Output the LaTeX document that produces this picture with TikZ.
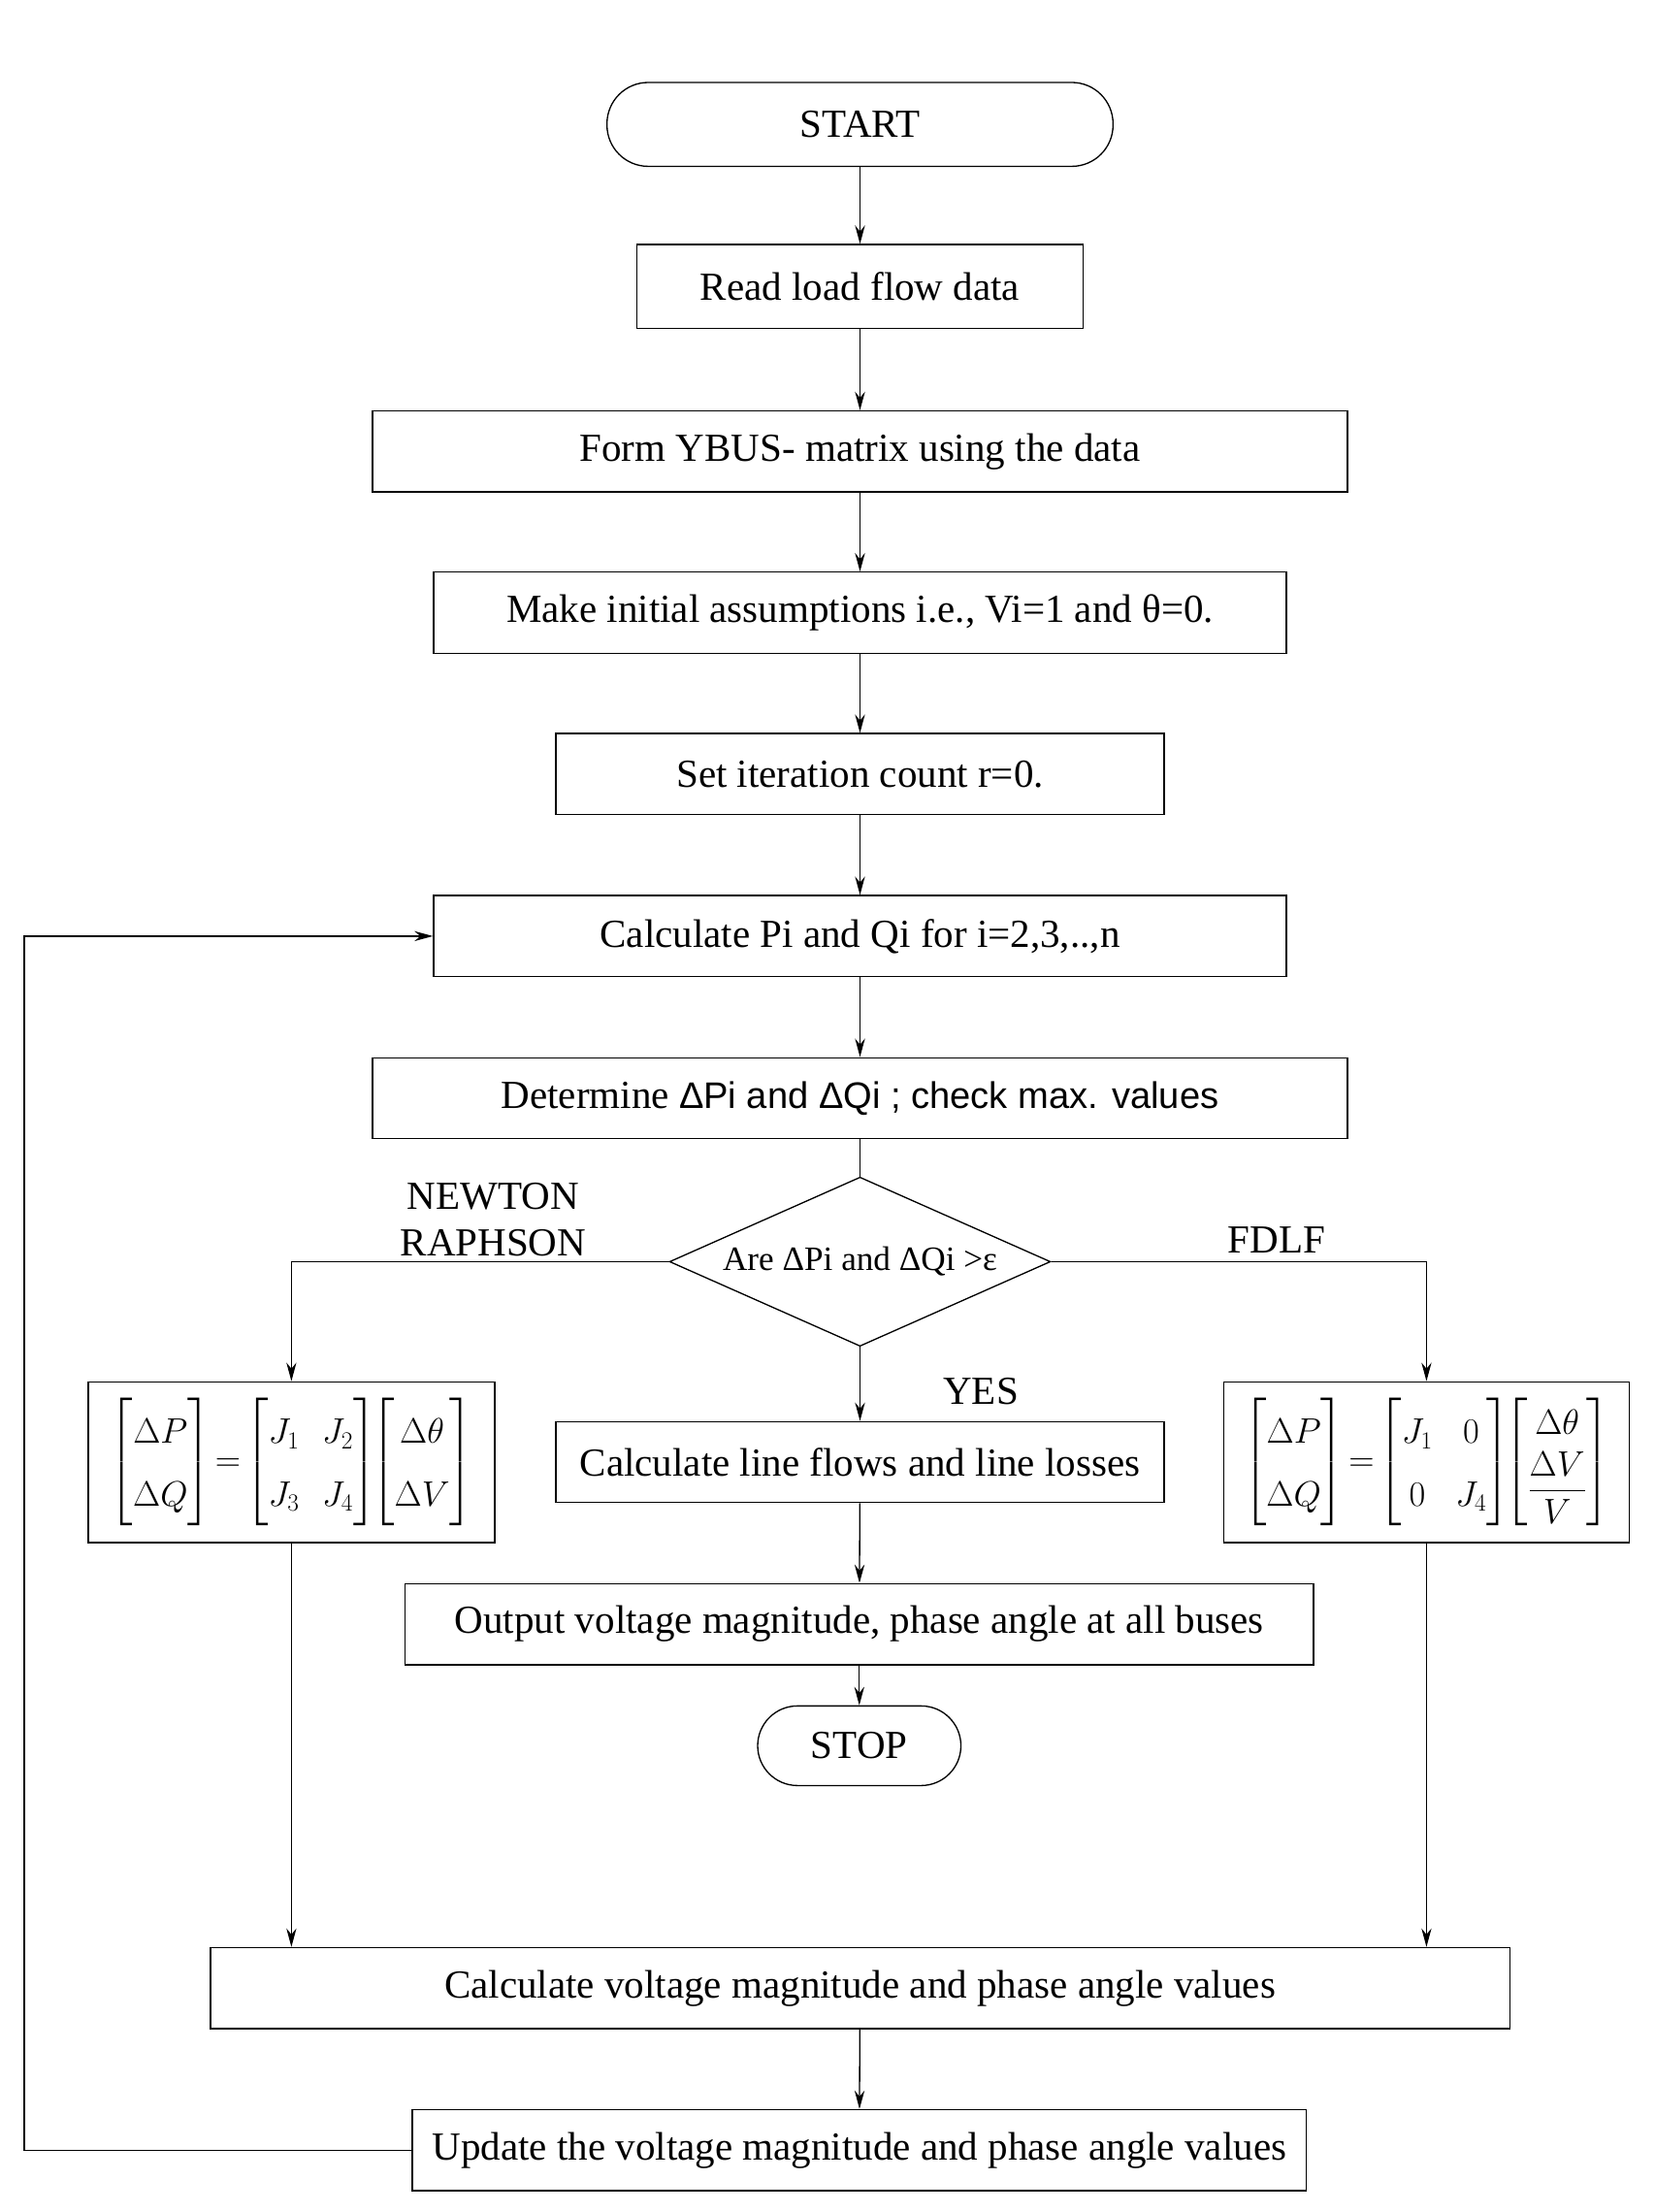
\documentclass[tikz,border=0pt]{standalone}
\usepackage{amsmath}
\usepackage{fontspec}
\setmainfont{Liberation Serif}
\newfontfamily\arialf{Liberation Sans}
\usetikzlibrary{shapes.geometric,arrows.meta}
\begin{document}
\begin{tikzpicture}[x=1pt,y=-1pt,line width=0.9pt,
  bx/.style={draw,rectangle,minimum height=57pt,inner sep=0pt,font=\fontsize{28}{33}\selectfont},
  lbl/.style={font=\fontsize{28}{33}\selectfont,align=center},
  arr/.style={-{Stealth[length=13pt,width=7pt]}}]
\useasboundingbox (0,0) rectangle (1164,1556);
\node[bx,rounded corners=29pt,minimum width=356pt,minimum height=59pt] (start) at (605,87.5) {START};
\node[bx,minimum width=314pt,minimum height=59pt] (read) at (605,201.5) {Read load flow data};
\node[bx,minimum width=686pt] (form) at (605,317.5) {Form YBUS- matrix using the data};
\node[bx,minimum width=600pt] (make) at (605,431) {Make initial assumptions i.e., Vi=1 and θ=0.};
\node[bx,minimum width=428pt] (set) at (605,544.5) {Set iteration count r=0.};
\node[bx,minimum width=600pt] (calc) at (605,658.5) {Calculate Pi and Qi for i=2,3,..,n};
\node[bx,minimum width=686pt] (det) at (605,772.5) {Determine {\arialf\fontsize{26}{30}\selectfont ΔPi and ΔQi ; check max. values}};
\node[draw,diamond,aspect=2.25,minimum width=268pt,minimum height=119pt,inner sep=0pt,font=\fontsize{24}{28}\selectfont] (dia) at (605,887.5) {Are ΔPi and ΔQi >ε};
\node[bx,minimum width=286pt,minimum height=113pt] (nr) at (205,1028.5) {\fontsize{27}{34}\selectfont\setlength{\arraycolsep}{8pt}$\renewcommand{\arraystretch}{1.3}\begin{bmatrix}\Delta P\\ \Delta Q\end{bmatrix}\!=\!\begin{bmatrix}J_1 & J_2\\ J_3 & J_4\end{bmatrix}\!\!\begin{bmatrix}\Delta\theta\\ \Delta V\end{bmatrix}$};
\node[bx,minimum width=428pt] (flow) at (605,1028.5) {Calculate line flows and line losses};
\node[bx,minimum width=285pt,minimum height=113pt] (fd) at (1003.5,1028.5) {\fontsize{27}{34}\selectfont\setlength{\arraycolsep}{8pt}$\renewcommand{\arraystretch}{1.3}\begin{bmatrix}\Delta P\\ \Delta Q\end{bmatrix}\!=\!\begin{bmatrix}J_1 & 0\\ 0 & J_4\end{bmatrix}\!\!\renewcommand{\arraystretch}{1}\begin{bmatrix}\Delta\theta\\[2pt] \dfrac{\Delta V}{V}\end{bmatrix}$};
\node[bx,minimum width=639pt] (out) at (604.5,1142.5) {Output voltage magnitude, phase angle at all buses};
\node[bx,rounded corners=28pt,minimum width=143pt,minimum height=56pt] (stop) at (604.5,1228) {STOP};
\node[bx,minimum width=914pt] (cv) at (605,1398.5) {Calculate voltage magnitude and phase angle values};
\node[bx,minimum width=629pt] (upd) at (604.5,1512.5) {Update the voltage magnitude and phase angle values};
\node[lbl] (nrl) at (347,858) {NEWTON\\RAPHSON};
\node[lbl] (fdl) at (898,872) {FDLF};
\node[lbl] (yes) at (690,979) {YES};
\draw[arr] (start) -- (read);
\draw[arr] (read) -- (form);
\draw[arr] (form) -- (make);
\draw[arr] (make) -- (set);
\draw[arr] (set) -- (calc);
\draw[arr] (calc) -- (det);
\draw (det) -- (dia);
\draw[arr] (dia) -- (flow);
\draw[arr] (flow) -- (out);
\draw[arr] (out) -- (stop);
\draw[arr] (dia.west) -| (nr.north);
\draw[arr] (dia.east) -| (fd.north);
\draw[arr] (nr.south) -- (nr.south |- cv.north);
\draw[arr] (fd.south) -- (fd.south |- cv.north);
\draw[arr] (cv) -- (upd);
\draw[arr] (upd.west) -- (17,1512.5) -- (17,658.5) -- (calc.west);
\end{tikzpicture}
\end{document}
